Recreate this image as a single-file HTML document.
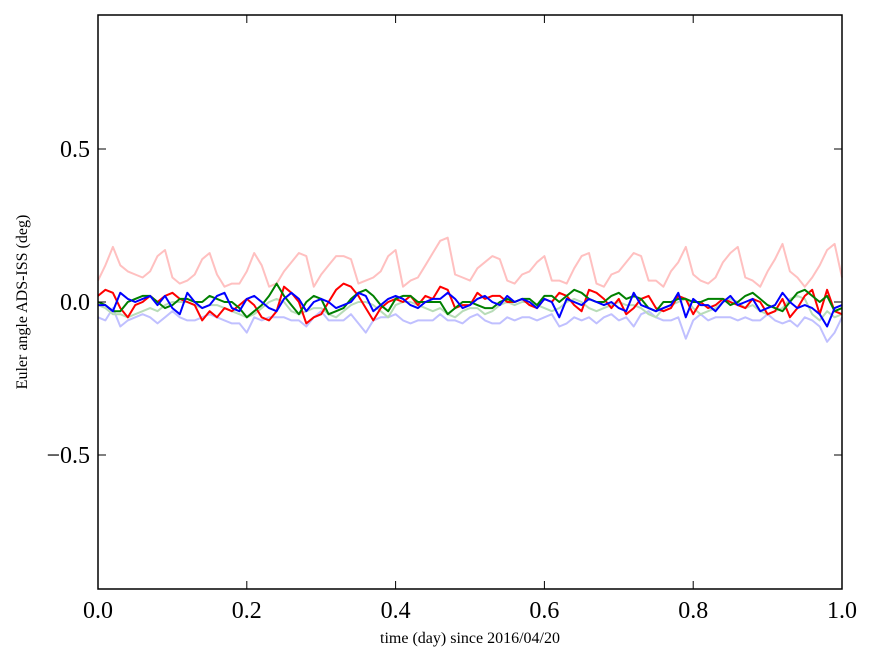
<!DOCTYPE html>
<html><head><meta charset="utf-8"><style>
html,body{margin:0;padding:0;background:#fff;}
svg{display:block;font-family:"Liberation Serif",serif;}
</style></head><body>
<svg id="chart" width="875" height="662">
<rect width="875" height="662" fill="#fff"/>
<g id="series"></g>
<g id="axes"></g>
<text x="470" y="643" font-size="16" text-anchor="middle">time (day) since 2016/04/20</text>
<text x="27" y="302" font-size="16" text-anchor="middle" transform="rotate(-90 27 302)">Euler angle ADS-ISS (deg)</text>
</svg>
<script>
const xTicks=[0,0.2,0.4,0.6,0.8,1.0];
const xTickLabels=["0.0","0.2","0.4","0.6","0.8","1.0"];
const yTicks=[-0.5,0,0.5];
const yTickLabels=["\u22120.5","0.0","0.5"];
const lightRed=[0.07,0.12,0.18,0.12,0.10,0.09,0.08,0.10,0.15,0.17,0.08,0.06,0.07,0.09,0.14,0.16,0.09,0.05,0.06,0.06,0.10,0.16,0.12,0.05,0.06,0.10,0.13,0.16,0.15,0.05,0.09,0.12,0.15,0.15,0.14,0.06,0.07,0.08,0.10,0.15,0.17,0.05,0.07,0.08,0.12,0.16,0.20,0.21,0.09,0.08,0.07,0.11,0.13,0.15,0.14,0.07,0.06,0.09,0.10,0.13,0.15,0.07,0.07,0.06,0.11,0.15,0.16,0.06,0.05,0.09,0.10,0.13,0.16,0.15,0.07,0.07,0.05,0.10,0.13,0.18,0.09,0.07,0.06,0.08,0.13,0.16,0.18,0.08,0.07,0.05,0.10,0.14,0.19,0.10,0.08,0.05,0.08,0.12,0.17,0.19,0.08];
const lightBlue=[-0.05,-0.06,-0.02,-0.08,-0.06,-0.05,-0.04,-0.05,-0.07,-0.05,-0.03,-0.05,-0.06,-0.06,-0.05,-0.04,-0.05,-0.06,-0.07,-0.07,-0.10,-0.05,-0.06,-0.05,-0.05,-0.05,-0.06,-0.06,-0.08,-0.05,-0.03,-0.06,-0.06,-0.06,-0.04,-0.07,-0.10,-0.06,-0.05,-0.05,-0.04,-0.06,-0.07,-0.06,-0.06,-0.06,-0.04,-0.06,-0.06,-0.07,-0.05,-0.04,-0.06,-0.07,-0.07,-0.05,-0.06,-0.05,-0.05,-0.06,-0.05,-0.04,-0.08,-0.07,-0.05,-0.06,-0.05,-0.07,-0.05,-0.04,-0.06,-0.05,-0.08,-0.04,-0.03,-0.05,-0.06,-0.06,-0.05,-0.12,-0.06,-0.04,-0.06,-0.05,-0.05,-0.05,-0.06,-0.05,-0.06,-0.06,-0.04,-0.06,-0.07,-0.06,-0.08,-0.05,-0.06,-0.08,-0.13,-0.10,-0.05];
const lightGreen=[-0.01,-0.02,-0.04,-0.04,-0.05,-0.04,-0.03,-0.02,-0.03,-0.01,0.00,0.00,0.00,-0.01,-0.02,-0.01,-0.01,-0.02,-0.03,-0.04,-0.05,-0.04,-0.02,0.00,0.01,0.00,-0.03,-0.04,-0.03,-0.02,-0.02,-0.04,-0.05,-0.03,-0.01,0.00,0.00,-0.01,-0.03,-0.05,-0.01,0.00,0.00,-0.01,-0.02,-0.03,-0.02,-0.04,-0.05,-0.03,-0.02,-0.02,-0.04,-0.03,-0.01,0.00,-0.01,0.00,0.00,-0.01,-0.02,-0.03,-0.02,0.00,0.01,0.00,-0.02,-0.03,-0.02,-0.01,0.00,-0.01,-0.01,-0.02,-0.04,-0.05,-0.02,-0.01,0.00,0.01,-0.02,-0.04,-0.03,-0.02,0.00,0.01,0.00,-0.02,-0.01,-0.03,-0.04,-0.03,-0.02,0.01,0.02,0.01,-0.04,-0.06,-0.03,-0.05,-0.04];
const red=[0.02,0.04,0.03,-0.02,-0.05,-0.01,0.00,0.02,0.00,0.02,0.03,0.01,0.00,-0.01,-0.06,-0.03,-0.05,-0.02,-0.03,-0.01,0.01,-0.01,-0.05,-0.06,-0.03,0.05,0.03,0.00,-0.07,-0.05,-0.04,0.00,0.04,0.06,0.05,0.02,-0.02,-0.06,-0.02,0.00,0.01,0.00,0.02,-0.01,0.02,0.01,0.05,0.04,-0.02,-0.01,-0.01,0.03,0.01,0.02,0.02,0.00,0.00,0.01,-0.01,-0.02,0.01,0.00,0.03,0.02,-0.01,-0.03,0.04,0.03,0.01,-0.02,0.01,-0.04,-0.02,0.01,0.02,-0.02,-0.03,-0.02,0.02,0.01,-0.04,0.00,-0.02,-0.01,0.01,0.00,-0.01,-0.02,0.01,0.00,-0.04,-0.03,0.01,-0.05,-0.02,0.02,0.04,-0.04,0.04,-0.03,-0.04];
const green=[0.00,-0.01,-0.03,-0.03,0.00,0.01,0.02,0.02,0.00,-0.02,-0.01,0.01,0.01,0.00,0.00,0.02,0.01,0.00,0.00,-0.02,-0.05,-0.03,-0.01,0.02,0.06,0.02,-0.01,-0.04,0.00,0.02,0.01,-0.04,-0.03,-0.02,0.01,0.03,0.04,0.02,-0.01,-0.03,0.01,0.02,0.02,0.00,0.00,0.00,0.00,-0.04,-0.02,0.00,0.00,-0.01,-0.02,-0.02,0.00,0.01,0.00,0.01,0.01,-0.01,0.02,0.02,0.00,0.02,0.04,0.03,0.01,0.00,0.00,0.02,0.03,0.01,0.02,0.01,-0.02,-0.03,0.00,0.00,0.01,0.01,0.00,0.00,0.01,0.01,0.01,-0.01,0.00,0.02,0.03,0.01,-0.01,-0.02,-0.03,0.00,0.03,0.04,0.02,0.00,0.02,-0.03,-0.02];
const blue=[-0.01,-0.01,-0.03,0.03,0.01,0.00,0.01,0.02,-0.01,0.02,-0.02,-0.04,0.03,0.00,-0.02,-0.01,0.02,0.03,-0.02,-0.03,0.01,0.02,0.00,-0.02,-0.03,0.01,0.03,0.01,-0.03,0.00,0.01,0.00,-0.02,-0.01,0.00,0.03,0.02,-0.03,-0.01,0.01,0.02,0.01,-0.01,-0.02,0.00,0.01,0.01,0.03,0.01,-0.02,-0.01,0.01,0.02,0.00,-0.01,0.02,0.00,0.01,0.00,-0.02,0.01,0.00,-0.05,0.01,0.00,-0.01,0.01,0.00,-0.01,0.00,-0.02,-0.03,0.03,-0.01,-0.02,-0.03,-0.02,-0.01,0.03,-0.05,0.01,-0.01,-0.01,-0.03,0.00,0.02,-0.01,0.00,0.01,-0.03,-0.02,-0.01,0.03,0.00,-0.02,-0.01,-0.02,-0.04,-0.08,-0.02,-0.01];

const L=98,R=842,T=15,B=589,Y0=302,YS=306;
const xs=v=>L+(R-L)*v;
const ys=v=>Y0-YS*v;
const NS="http://www.w3.org/2000/svg";
function mk(tag,attrs,parent){const e=document.createElementNS(NS,tag);for(const k in attrs)e.setAttribute(k,attrs[k]);parent.appendChild(e);return e;}
const sg=document.getElementById('series');
const defs=[[lightRed,'#ffc0c0','light-red-series'],[lightBlue,'#c0c0ff','light-blue-series'],[lightGreen,'#b8dcb8','light-green-series'],[red,'#ff0000','red-series'],[green,'#008000','green-series'],[blue,'#0000ff','blue-series']];
defs.forEach(([arr,col,name])=>{
  const n=arr.length;
  const d=arr.map((v,i)=>(i?'L':'M')+xs(i/(n-1)).toFixed(1)+','+ys(v).toFixed(1)).join(' ');
  const p=mk('path',{d:d,fill:'none',stroke:col,'stroke-width':2,'stroke-linejoin':'round'},sg);
  
  
});
const ag=document.getElementById('axes');
const frame=mk('rect',{x:L,y:T,width:R-L,height:B-T,fill:'none',stroke:'#000','stroke-width':1.5},ag);


xTicks.forEach((v,i)=>{
  const x=xs(v);
  mk('line',{x1:x,y1:B,x2:x,y2:B-8,stroke:'#000'},ag);
  mk('line',{x1:x,y1:T,x2:x,y2:T+8,stroke:'#000'},ag);
  const t=mk('text',{x:x,y:B+29,'font-size':24,'text-anchor':'middle'},ag);
  t.textContent=xTickLabels[i];
  
  
});
yTicks.forEach((v,i)=>{
  const y=ys(v);
  mk('line',{x1:L,y1:y,x2:L+8,y2:y,stroke:'#000'},ag);
  mk('line',{x1:R,y1:y,x2:R-8,y2:y,stroke:'#000'},ag);
  const t=mk('text',{x:L-8,y:y+8,'font-size':24,'text-anchor':'end'},ag);
  t.textContent=yTickLabels[i];
  
  
});
</script>
</body></html>
